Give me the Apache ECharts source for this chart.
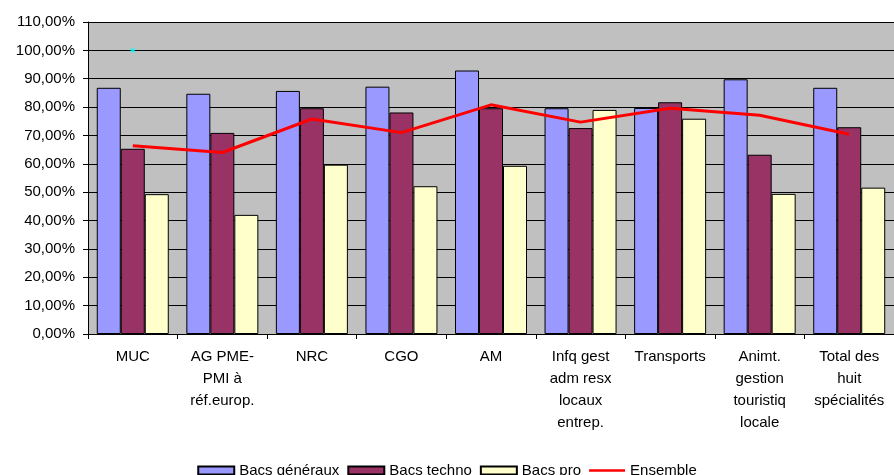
<!DOCTYPE html>
<html>
<head>
<meta charset="utf-8">
<script src="https://cdn.jsdelivr.net/npm/echarts@6/dist/echarts.min.js"></script>
<style>
  html, body { margin: 0; padding: 0; background: #fff; }
  #chart { width: 894px; height: 475px; }
</style>
</head>
<body>
<div id="chart"></div>
<script>
// catégories (retours à la ligne comme dans l'original)
const categories = [
  'MUC',
  'AG PME-\nPMI à\nréf.europ.',
  'NRC',
  'CGO',
  'AM',
  'Infq gest\nadm resx\nlocaux\nentrep.',
  'Transports',
  'Animt.\ngestion\ntouristiq\nlocale',
  'Total des\nhuit\nspécialités'
];
const bacsGeneraux = [86.8, 84.7, 85.7, 87.2, 92.9, 79.6, 79.7, 89.8, 86.8];
const bacsTechno   = [65.3, 70.9, 79.6, 78.1, 79.6, 72.6, 81.7, 63.2, 72.9];
const bacsPro      = [49.3, 42.0, 59.7, 52.1, 59.3, 79.0, 75.9, 49.4, 51.6];
const ensemble     = [66.4, 64.0, 75.8, 71.0, 80.8, 74.7, 79.6, 77.1, 70.4];
const pointIsole   = [100, null, null, null, null, null, null, null, null];

const font = 'Liberation Sans, Arial, sans-serif';

let chart = echarts.init(document.getElementById('chart'));
let barStyle = function (color) {
  return { color: color, borderColor: '#000', borderWidth: 1 };
};
let option = {
  animation: false,
  textStyle: { fontFamily: font },
  grid: { left: 88, top: 22, right: -4, bottom: 141, containLabel: false,
          show: true, backgroundColor: '#c0c0c0', borderWidth: 0 },
  legend: {
    top: 458,
    left: 'center',
    itemWidth: 36,
    itemHeight: 8,
    itemGap: 8,
    textStyle: { fontSize: 15, color: '#000', fontFamily: font },
    data: [
      { name: 'Bacs généraux', icon: 'rect' },
      { name: 'Bacs techno', icon: 'rect' },
      { name: 'Bacs pro', icon: 'rect' },
      { name: 'Ensemble', icon: 'path://M0,0L40,0L40,3L0,3Z', itemStyle: { color: '#ff0000', borderWidth: 0 } }
    ]
  },
  xAxis: {
    type: 'category',
    data: categories,
    boundaryGap: true,
    axisLine: { lineStyle: { color: '#000', width: 1 } },
    axisTick: { show: true, length: 5, interval: 0, lineStyle: { color: '#000' } },
    axisLabel: { interval: 0, color: '#000', fontSize: 15, lineHeight: 22, margin: 12, fontFamily: font },
    splitLine: { show: false }
  },
  yAxis: {
    type: 'value',
    min: 0,
    max: 110,
    interval: 10,
    axisLine: { show: true, lineStyle: { color: '#000' } },
    axisTick: { show: true, length: 5, lineStyle: { color: '#000' } },
    axisLabel: {
      color: '#000', fontSize: 15, margin: 13, fontFamily: font,
      formatter: v => v.toFixed(2).replace('.', ',') + '%'
    },
    splitLine: { show: true, lineStyle: { color: '#000', width: 1 } }
  },
  series: [
    { name: 'Bacs généraux', type: 'bar', data: bacsGeneraux, barWidth: 24, barGap: '0%', itemStyle: barStyle('#9999ff') },
    { name: 'Bacs techno', type: 'bar', data: bacsTechno, barWidth: 24, barGap: '0%', itemStyle: barStyle('#993366') },
    { name: 'Bacs pro', type: 'bar', data: bacsPro, barWidth: 24, barGap: '0%', itemStyle: barStyle('#ffffcc') },
    { name: 'Ensemble', type: 'line', data: ensemble, symbol: 'none', showSymbol: false,
      lineStyle: { color: '#ff0000', width: 3 }, itemStyle: { color: '#ff0000' }, z: 5 },
    { name: 'point', type: 'scatter', data: pointIsole, symbol: 'rect', symbolSize: 4,
      itemStyle: { color: '#00ffff' }, z: 6 }
  ]
};
chart.setOption(option);
</script>
</body>
</html>
